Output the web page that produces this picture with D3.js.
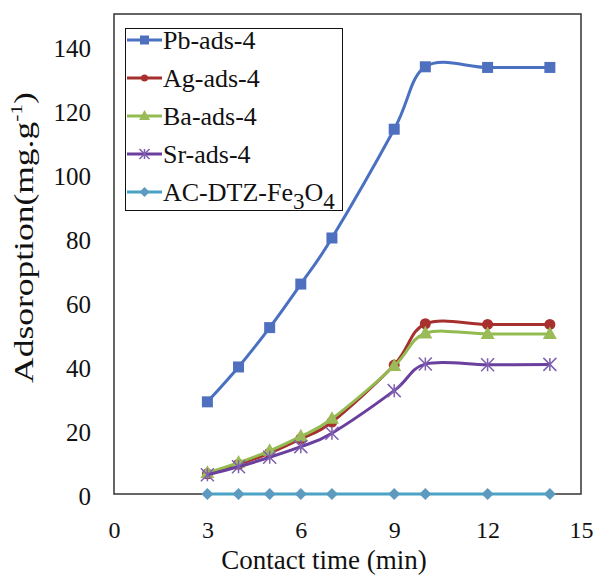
<!DOCTYPE html>
<html><head><meta charset="utf-8">
<script src="https://cdn.jsdelivr.net/npm/d3@7"></script>
<style>body{margin:0;background:#fff}</style>
</head><body><svg id="c" width="596" height="579"></svg>
<script>
const contactTime = [3, 4, 5, 6, 7, 9, 10, 12, 14];
const pbAds = [28.8, 39.7, 52.0, 65.6, 80.0, 114.0, 133.5, 133.3, 133.3];
const agAds = [6.3, 9.3, 12.8, 17.3, 22.5, 40.3, 53.2, 53.0, 53.0];
const baAds = [6.6, 9.8, 13.5, 18.0, 23.5, 40.0, 50.2, 50.0, 50.0];
const srAds = [6.0, 8.5, 11.5, 14.8, 19.0, 32.3, 40.6, 40.4, 40.5];
const acDtz = [0, 0, 0, 0, 0, 0, 0, 0, 0];
const seriesNames = ["Pb-ads-4", "Ag-ads-4", "Ba-ads-4", "Sr-ads-4", "AC-DTZ-Fe3O4"];
const xTicks = [0, 3, 6, 9, 12, 15];
const yTicks = [0, 20, 40, 60, 80, 100, 120, 140];

const FONT = "'Liberation Serif','Times New Roman',serif";
const svg = d3.select("#c");
const x = d3.scaleLinear().domain([0, 15]).range([114, 581]);
const y = d3.scaleLinear().domain([0, 150]).range([494, 14]);

const series = [
  {name: seriesNames[0], values: pbAds, line: "#4a70c2", fill: "#4f6fbf", marker: "square"},
  {name: seriesNames[1], values: agAds, line: "#a6302e", fill: "#a8312f", marker: "circle"},
  {name: seriesNames[2], values: baAds, line: "#93bb50", fill: "#9bbb59", marker: "triangle"},
  {name: seriesNames[3], values: srAds, line: "#6a3f9e", fill: "#7e5fb0", marker: "star"},
  {name: seriesNames[4], values: acDtz, line: "#4aa3c4", fill: "#5c9bbf", marker: "diamond"}
];

// axes
const xAxis = d3.axisBottom(x).tickValues(xTicks).tickSize(0).tickPadding(27);
const gx = svg.append("g").attr("transform", "translate(0,494)").call(xAxis);
gx.select(".domain").remove();
gx.selectAll("text").attr("font-family", FONT).attr("font-size", 24).attr("fill", "#111");

const yAxis = d3.axisLeft(y).tickValues(yTicks).tickSize(0).tickPadding(23);
const gy = svg.append("g").attr("transform", "translate(114,0)").call(yAxis);
gy.select(".domain").remove();
gy.selectAll("text").attr("font-family", FONT).attr("font-size", 25).attr("fill", "#111").attr("dy", "0.42em");

// plot frame
svg.append("rect").attr("x", x(0)).attr("y", y(150)).attr("width", x(15) - x(0)).attr("height", y(0) - y(150))
  .attr("fill", "none").attr("stroke", "#333").attr("stroke-width", 1.5);

function drawMarker(g, type, cx, cy, s, fill) {
  if (type === "square") {
    g.append("rect").attr("x", cx - s/2).attr("y", cy - s/2).attr("width", s).attr("height", s).attr("fill", fill);
  } else if (type === "circle") {
    g.append("circle").attr("cx", cx).attr("cy", cy).attr("r", s/2).attr("fill", fill);
  } else if (type === "triangle") {
    const h = s * 0.9;
    g.append("path").attr("d", `M${cx},${cy - h*0.6}L${cx + s/2},${cy + h*0.4}L${cx - s/2},${cy + h*0.4}Z`).attr("fill", fill);
  } else if (type === "diamond") {
    const r = s/2;
    g.append("path").attr("d", `M${cx},${cy - r}L${cx + r},${cy}L${cx},${cy + r}L${cx - r},${cy}Z`).attr("fill", fill);
  } else if (type === "star") {
    const r = s/2;
    g.append("path").attr("d", `M${cx},${cy - r}L${cx},${cy + r}M${cx - r},${cy - r}L${cx + r},${cy + r}M${cx - r},${cy + r}L${cx + r},${cy - r}`)
      .attr("stroke", fill).attr("stroke-width", 1.5).attr("fill", "none");
  }
}

const line = d3.line().x((d, i) => x(contactTime[i])).y(d => y(d)).curve(d3.curveCardinal.tension(0));
const markerSize = {square: 11, circle: 11, triangle: 14, star: 13, diamond: 12};
series.forEach(s => {
  const g = svg.append("g");
  g.append("path").attr("d", line(s.values)).attr("fill", "none").attr("stroke", s.line).attr("stroke-width", 3);
  s.values.forEach((v, i) => drawMarker(g, s.marker, x(contactTime[i]), y(v), markerSize[s.marker], s.fill));
});

// legend
const lg = svg.append("g");
lg.append("rect").attr("x", 125.5).attr("y", 28.5).attr("width", 217).attr("height", 182)
  .attr("fill", "#fff").attr("stroke", "#111").attr("stroke-width", 1);
const legendMarker = {square: 9, circle: 7, triangle: 11, star: 10, diamond: 10};
series.forEach((s, i) => {
  const cy = 40 + i * 38;
  lg.append("line").attr("x1", 127).attr("x2", 162).attr("y1", cy).attr("y2", cy).attr("stroke", s.line).attr("stroke-width", 3);
  drawMarker(lg, s.marker, 144.5, cy, legendMarker[s.marker], s.fill);
  const t = lg.append("text").attr("x", 163).attr("y", cy + 9).attr("font-family", FONT).attr("font-size", 26).attr("fill", "#111");
  if (i === 4) {
    t.append("tspan").text("AC-DTZ-Fe");
    t.append("tspan").attr("dy", 8).attr("font-size", 23).text("3");
    t.append("tspan").attr("dy", -8).text("O");
    t.append("tspan").attr("dy", 8).attr("font-size", 23).text("4");
  } else {
    t.text(s.name);
  }
});

// axis titles
svg.append("text").attr("x", 324).attr("y", 569).attr("text-anchor", "middle")
  .attr("font-family", FONT).attr("font-size", 27).attr("fill", "#111").text("Contact time (min)");

const yt = svg.append("text").attr("text-anchor", "middle")
  .attr("font-family", FONT).attr("font-size", 28).attr("fill", "#111");
yt.append("tspan").text("Adsoroption(mg.g");
yt.append("tspan").attr("dy", -11).attr("font-size", 17).text("-1");
yt.append("tspan").attr("dy", 11).text(")");
const natural = yt.node().getComputedTextLength();
const sx = 291 / natural;
yt.attr("transform", `translate(33,237.5) rotate(-90) scale(${sx},1)`);
</script>
</body></html>
